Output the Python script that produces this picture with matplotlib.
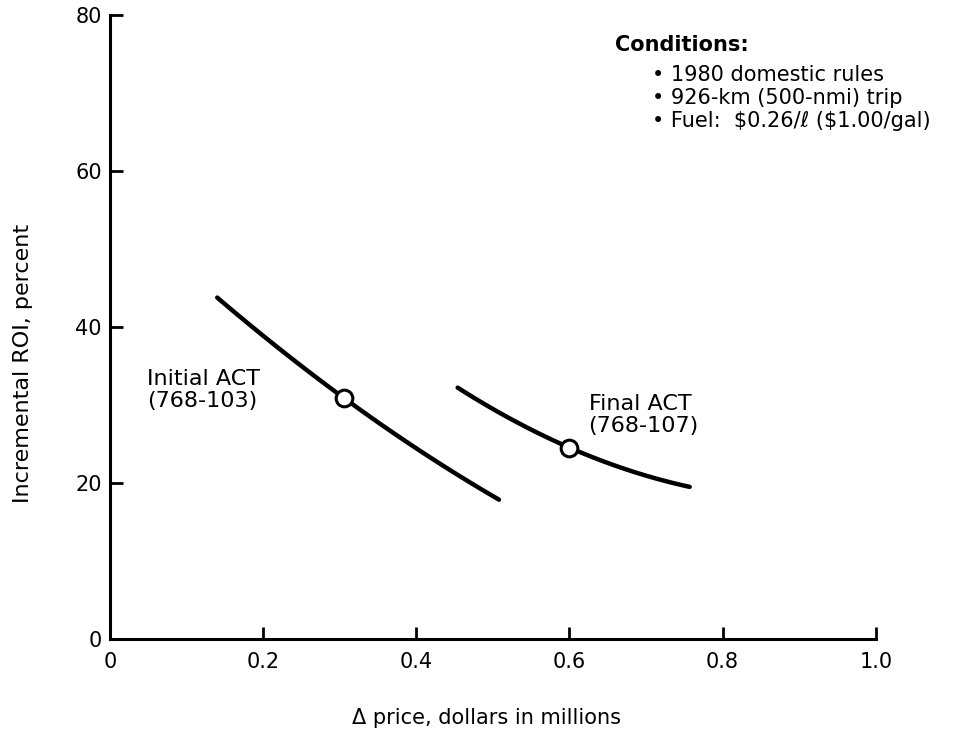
#!/usr/bin/env python
import numpy as np
import matplotlib.pyplot as plt

plt.rcParams['font.family'] = ['DejaVu Sans']
plt.rcParams['xtick.direction'] = 'in'
plt.rcParams['ytick.direction'] = 'in'

# Initial ACT (768-103)
initial_price = [0.140, 0.209, 0.305, 0.409, 0.508]
initial_roi = [43.7, 38.3, 30.9, 23.8, 17.9]
initial_point = (0.305, 30.9)

# Final ACT (768-107)
final_price = [0.454, 0.527, 0.599, 0.689, 0.757]
final_roi = [32.2, 28.1, 24.5, 21.3, 19.5]
final_point = (0.599, 24.5)

x_ticks = [0, 0.2, 0.4, 0.6, 0.8, 1.0]
x_labels = ['0', '0.2', '0.4', '0.6', '0.8', '1.0']
y_ticks = [0, 20, 40, 60, 80]

conditions = ['\u2022 1980 domestic rules',
              '\u2022 926-km (500-nmi) trip',
              '\u2022 Fuel:  \\$0.26/\u2113 (\\$1.00/gal)']


def smooth(x, y):
    c = np.polyfit(x, y, 2)
    xs = np.linspace(x[0], x[-1], 100)
    return xs, np.polyval(c, xs)


def main():
    fig = plt.figure(figsize=(9.54, 7.34), dpi=100)
    ax = fig.add_axes([0.1153, 0.1294, 0.8027, 0.8502])

    for px, py, pt in [(initial_price, initial_roi, initial_point),
                       (final_price, final_roi, final_point)]:
        xs, ys = smooth(px, py)
        ax.plot(xs, ys, color='black', lw=3.2, solid_capstyle='round')
        ax.plot(*pt, 'o', ms=12, mfc='white', mec='black', mew=2.2)

    ax.set_xlim(0, 1.0)
    ax.set_ylim(0, 80)
    ax.set_xticks(x_ticks)
    ax.set_xticklabels(x_labels)
    ax.set_yticks(y_ticks)
    ax.tick_params(direction='in', length=9, width=2, labelsize=15, pad=6)
    ax.tick_params(axis='x', pad=9)
    for s in ['top', 'right']:
        ax.spines[s].set_visible(False)
    for s in ['left', 'bottom']:
        ax.spines[s].set_linewidth(2.2)

    ax.set_xlabel('\u0394 price, dollars in millions', fontsize=15)
    ax.xaxis.set_label_coords(0.492, -0.11)
    ax.set_ylabel('Incremental ROI, percent', fontsize=16)
    ax.yaxis.set_label_coords(-0.101, 0.442)

    ax.text(0.048, 31.9, 'Initial ACT\n(768-103)', fontsize=16, va='center',
            linespacing=1.15)
    ax.text(0.625, 28.7, 'Final ACT\n(768-107)', fontsize=16, va='center',
            linespacing=1.15)

    ax.text(0.659, 76.2, 'Conditions:', fontsize=15, fontweight='bold',
            va='center')
    for i, line in enumerate(conditions):
        ax.text(0.708, 72.3 - i * 2.95, line, fontsize=15, va='center')

    fig.savefig('out.png', dpi=100)


if __name__ == "__main__":
    main()
